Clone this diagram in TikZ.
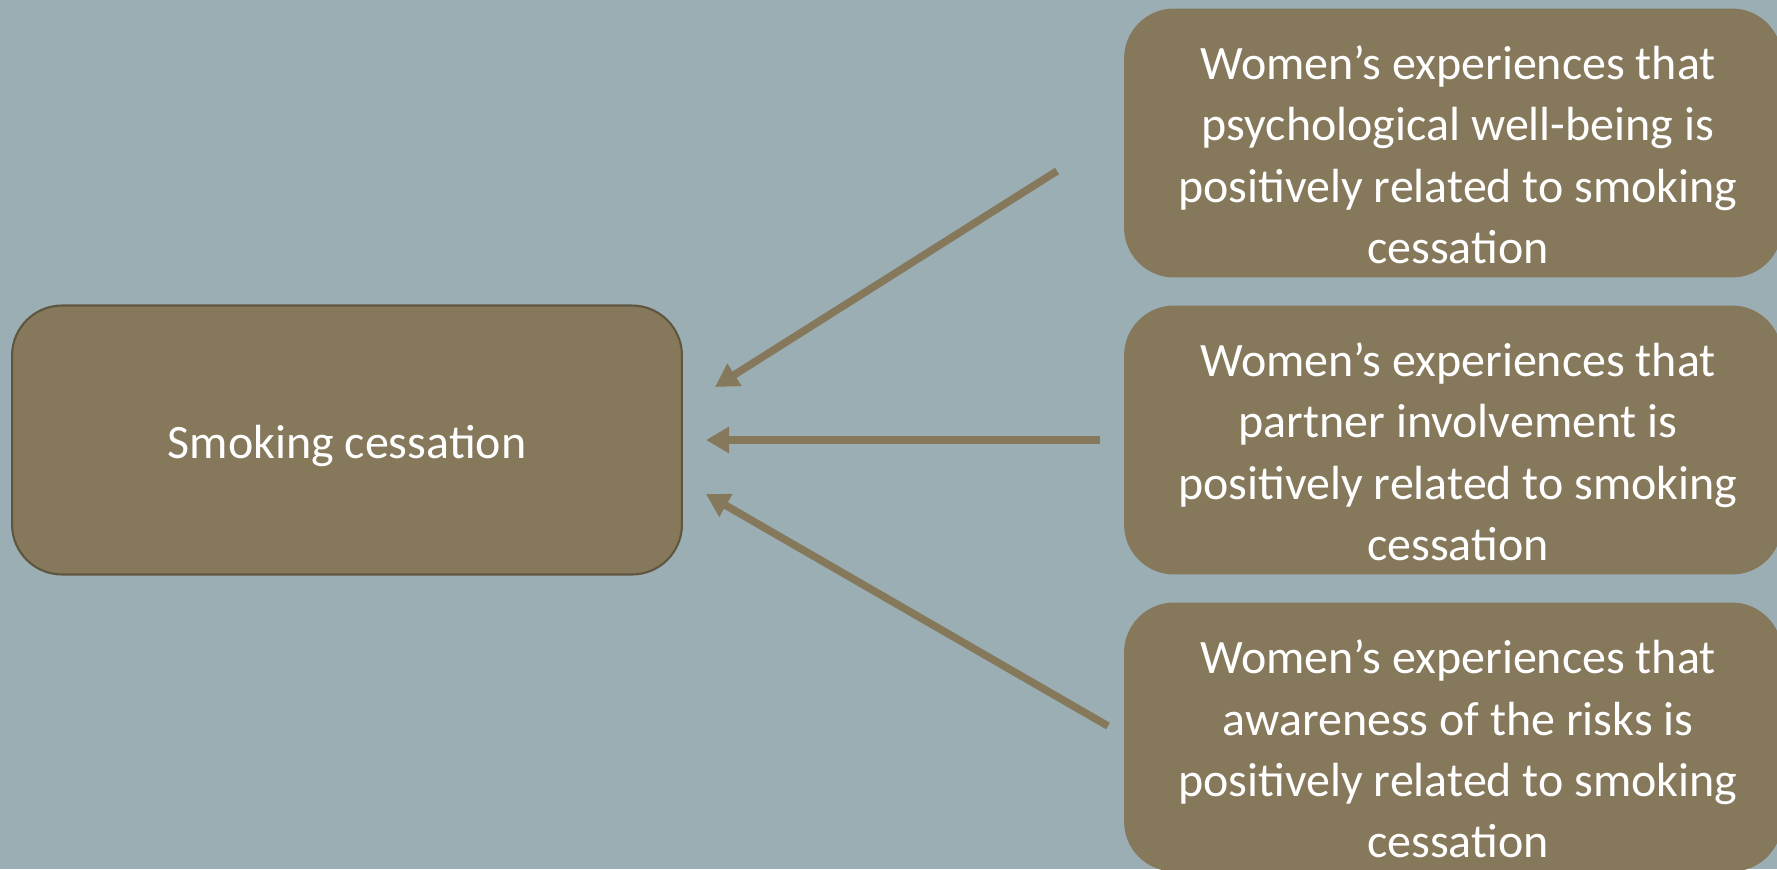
\documentclass[tikz,border=0pt]{standalone}
\usepackage{fontspec}
\setmainfont{Carlito}
\usetikzlibrary{arrows.meta}

\definecolor{slate}{RGB}{154,174,180}
\definecolor{khaki}{RGB}{134,120,91}
\definecolor{khakiedge}{RGB}{96,86,64}

\begin{document}
\begin{tikzpicture}[x=0.02cm,y=-0.02cm,
                    box/.style={rounded corners=1cm,fill=khaki,text=white,align=center,
                                inner sep=0pt,font=\fontsize{27.3}{35}\selectfont},
                    reason/.style={box,minimum width=13.16cm,minimum height=5.38cm},
                    reasontext/.style={text=white,align=center,inner sep=0pt,
                                       font=\fontsize{27.3}{35}\selectfont,xshift=0.1cm,yshift=-0.24cm},
                    link/.style={draw=khaki,line width=4.3pt,
                                 -{Triangle[length=0.46cm,width=0.5cm]}}]

  % page and background
  \useasboundingbox (0,0) rectangle (1777,869);
  \clip (0,0) rectangle (1777,869);
  \fill[slate] (0,0) rectangle (1777,869);

  \node[box,draw=khakiedge,line width=1.2pt,minimum width=13.4cm,minimum height=5.38cm]
    (cessation) at (347,440) {\raisebox{-0.11cm}[\height][\depth]{Smoking cessation}};

  \node[reason,label={[reasontext]center:Women’s experiences that\\psychological well-being is\\positively related to smoking\\cessation}]
    (wellbeing) at (1453,143) {};
  \node[reason,label={[reasontext]center:Women’s experiences that\\partner involvement is\\positively related to smoking\\cessation}]
    (partner) at (1453,440) {};
  \node[reason,label={[reasontext]center:Women’s experiences that\\awareness of the risks is\\positively related to smoking\\cessation}]
    (risks) at (1453,737) {};

  % arrow ends
  \coordinate (wellbeing out) at (1057,171);
  \coordinate (partner out) at (1100,440);
  \coordinate (risks out) at (1108,726);
  \coordinate (wellbeing in) at (715,387);
  \coordinate (partner in) at (706,440);
  \coordinate (risks in) at (706,494);

  \draw[link] (wellbeing out) -- (wellbeing in);
  \draw[link] (partner out) -- (partner in);
  \draw[link] (risks out) -- (risks in);
\end{tikzpicture}
\end{document}
